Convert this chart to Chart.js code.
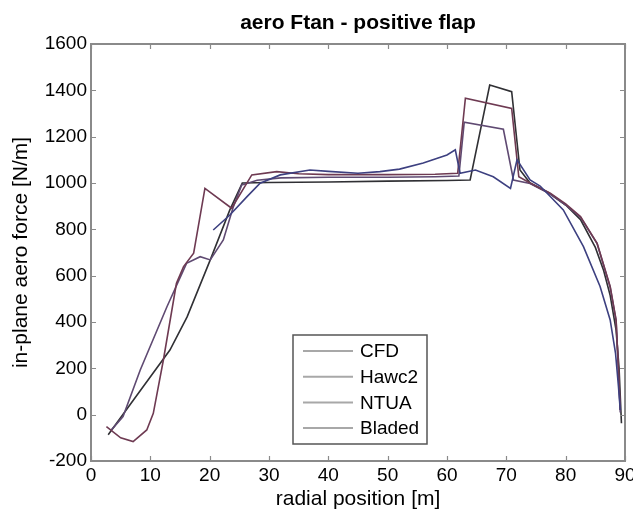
<!DOCTYPE html>
<html>
<head>
<meta charset="utf-8">
<script src="https://cdn.jsdelivr.net/npm/chart.js@4"></script>
<style>
  body { margin: 0; background: #fff; }
</style>
</head>
<body>
<canvas id="myChart" width="633" height="514"></canvas>
<script>
// data
var chartTitle = 'aero Ftan - positive flap';
var seriesNames = ['CFD', 'Hawc2', 'NTUA', 'Bladed'];
var xTicks = [0, 10, 20, 30, 40, 50, 60, 70, 80, 90];
var yTicks = [-200, 0, 200, 400, 600, 800, 1000, 1200, 1400, 1600];

var cfdX = [20.6, 23.4, 26.3, 28.5, 31.9, 36.9, 40, 45, 48.7, 52, 56, 60, 61.4, 62.2, 64.8, 67.8, 70.7, 71.8, 74, 75.7, 79.6, 83, 85.8, 87.5, 88.4, 88.9, 89.2];
var cfdY = [797, 862, 941, 999, 1035, 1056, 1050, 1042, 1049, 1060, 1086, 1121, 1143, 1042, 1056, 1027, 977, 1100, 1013, 987, 884, 725, 553, 409, 266, 121, 20];

var hawc2X = [2.6, 5.0, 7.1, 9.4, 10.5, 12.2, 14.4, 15.6, 17.3, 19.2, 23.7, 27.1, 31.3, 35, 40, 50, 58, 61.8, 63.1, 70.9, 72.1, 74, 77.4, 80, 82.5, 85.3, 87.5, 88.5, 88.9, 89.2];
var hawc2Y = [-52, -100, -116, -66, 6, 236, 567, 639, 697, 977, 891, 1035, 1049, 1040, 1036, 1036, 1038, 1042, 1366, 1322, 1027, 1000, 956, 910, 855, 740, 553, 409, 193, 20];

var ntuaX = [3.3, 5.4, 8.3, 12.8, 16.1, 18.4, 20.1, 22.3, 24, 25.4, 28, 32, 40, 50, 58, 62.0, 62.9, 69.5, 71.2, 74, 77.4, 80, 82.5, 85.3, 87.5, 88.5, 88.9, 89.2];
var ntuaY = [-70, -8, 193, 466, 653, 682, 668, 754, 898, 991, 1012, 1022, 1025, 1025, 1027, 1030, 1262, 1232, 1013, 998, 952, 905, 852, 738, 550, 405, 190, 10];

var bladedX = [2.9, 7.4, 13.3, 16.2, 20.1, 23.4, 25.5, 30, 40, 50, 60, 63.9, 67.2, 70.9, 72.3, 74, 77, 80, 82.5, 85, 86.4, 87.5, 88.5, 89, 89.4];
var bladedY = [-87, 72, 279, 422, 668, 884, 1000, 1002, 1004, 1008, 1011, 1013, 1423, 1394, 1056, 1000, 960, 905, 842, 722, 622, 515, 365, 200, -37];

function pts(xs, ys) {
    return xs.map(function (x, i) { return { x: x, y: ys[i] }; });
}

var FONT = 'Liberation Sans, Arial, sans-serif';
var TEXT = '#000';
var AXIS = '#8a8a8a';

// box round the plot with inward ticks on all four sides
var framePlugin = {
    id: 'frame',
    afterDatasetsDraw: function (chart) {
        var c = chart.ctx, a = chart.chartArea;
        var sx = chart.scales.x, sy = chart.scales.y;
        c.save();
        c.strokeStyle = AXIS;
        c.lineWidth = 2;
        c.strokeRect(a.left, a.top, a.right - a.left, a.bottom - a.top);
        c.lineWidth = 1.2;
        c.beginPath();
        xTicks.forEach(function (v) {
            var p = Math.round(sx.getPixelForValue(v)) + 0.5;
            c.moveTo(p, a.bottom); c.lineTo(p, a.bottom - 5);
            c.moveTo(p, a.top); c.lineTo(p, a.top + 5);
        });
        yTicks.forEach(function (v) {
            var p = Math.round(sy.getPixelForValue(v)) + 0.5;
            c.moveTo(a.left, p); c.lineTo(a.left + 5, p);
            c.moveTo(a.right, p); c.lineTo(a.right - 5, p);
        });
        c.stroke();
        // title centred over the axes, like matlab does it
        c.fillStyle = TEXT;
        c.font = 'bold 21px ' + FONT;
        c.textAlign = 'center';
        c.textBaseline = 'middle';
        c.fillText(chartTitle, (a.left + a.right) / 2, 23);
        c.restore();
    }
};

// matlab-style legend box inside the axes
var boxLegend = {
    id: 'boxLegend',
    afterDraw: function (chart) {
        var c = chart.ctx, a = chart.chartArea;
        var left = a.left + 202, top = a.bottom - 126, w = 134, h = 109;
        c.save();
        c.fillStyle = '#fff';
        c.fillRect(left, top, w, h);
        c.strokeStyle = '#555';
        c.lineWidth = 1.5;
        c.strokeRect(left, top, w, h);
        c.font = '19px ' + FONT;
        c.textBaseline = 'middle';
        c.textAlign = 'left';
        chart.data.datasets.forEach(function (ds, i) {
            var y = top + 16 + i * 25.7;
            c.strokeStyle = '#a8a8a8';
            c.lineWidth = 2;
            c.beginPath();
            c.moveTo(left + 10, y); c.lineTo(left + 60, y);
            c.stroke();
            c.fillStyle = TEXT;
            c.fillText(ds.label, left + 67, y + 1);
        });
        c.restore();
    }
};

var ctx = document.getElementById('myChart').getContext('2d');
var chart = new Chart(ctx, {
    type: 'scatter',
    data: {
        datasets: [{
            label: seriesNames[0],
            data: pts(cfdX, cfdY),
            borderColor: '#3d4080'
        }, {
            label: seriesNames[1],
            data: pts(hawc2X, hawc2Y),
            borderColor: '#6e3a52'
        }, {
            label: seriesNames[2],
            data: pts(ntuaX, ntuaY),
            borderColor: '#5f4a72'
        }, {
            label: seriesNames[3],
            data: pts(bladedX, bladedY),
            borderColor: '#303034'
        }]
    },
    options: {
        responsive: false,
        animation: false,
        showLine: true,
        layout: { padding: { left: 0, right: 8, top: 44, bottom: 0 } },
        elements: {
            point: { radius: 0 },
            line: { borderWidth: 1.6, tension: 0, fill: false }
        },
        plugins: {
            legend: { display: false },
            tooltip: { enabled: false },
            title: { display: false }
        },
        scales: {
            x: {
                type: 'linear',
                min: 0, max: 90,
                afterBuildTicks: function (s) { s.ticks = xTicks.map(function (v) { return { value: v }; }); },
                afterFit: function (s) { s.height = 53; s.paddingLeft = 0; s.paddingRight = 0; },
                grid: { display: false, drawTicks: false },
                border: { display: false },
                ticks: {
                    color: TEXT, font: { family: FONT, size: 19 }, padding: 3, maxRotation: 0,
                    callback: function (v) { return String(v); }
                },
                title: {
                    display: true, text: 'radial position [m]', color: TEXT,
                    font: { family: FONT, size: 21 }, padding: { top: 0, bottom: 2 }
                }
            },
            y: {
                min: -200, max: 1600,
                afterBuildTicks: function (s) { s.ticks = yTicks.map(function (v) { return { value: v }; }); },
                afterFit: function (s) { s.width = 91; s.paddingTop = 0; s.paddingBottom = 0; },
                grid: { display: false, drawTicks: false },
                border: { display: false },
                ticks: {
                    color: TEXT, font: { family: FONT, size: 19 }, padding: 4,
                    callback: function (v) { return String(v); }
                },
                title: {
                    display: true, text: 'in-plane aero force [N/m]', color: TEXT,
                    font: { family: FONT, size: 21 }, padding: { top: 9, bottom: 0 }
                }
            }
        }
    },
    plugins: [framePlugin, boxLegend]
});
</script>
</body>
</html>
